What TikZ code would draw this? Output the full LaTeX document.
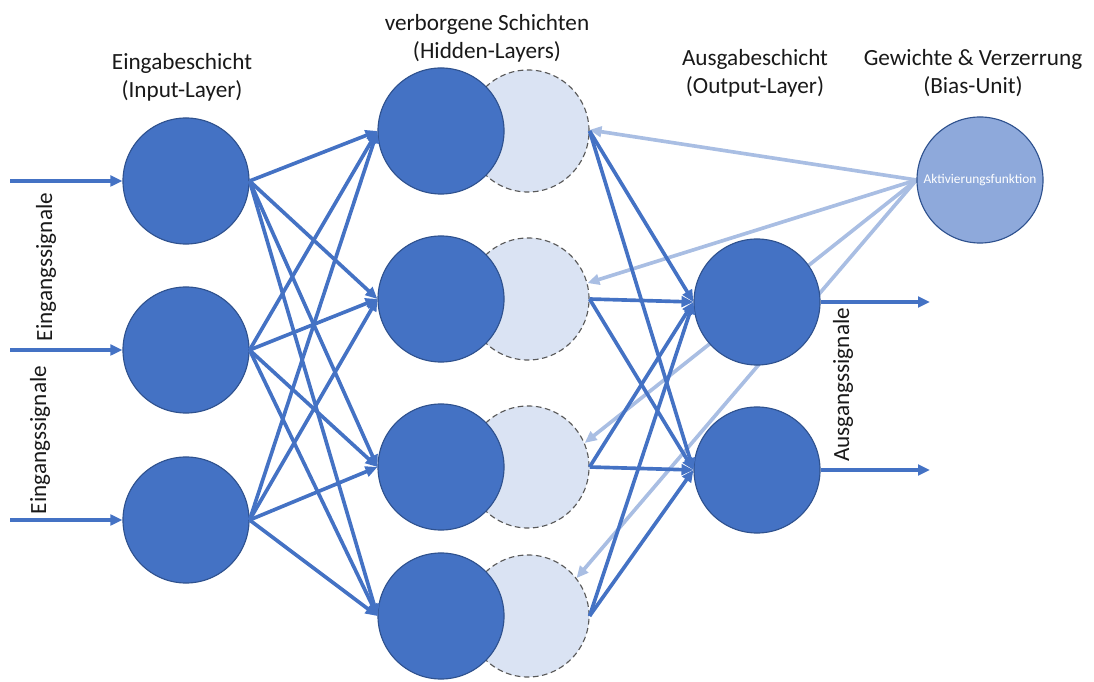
\documentclass[tikz,border=0pt]{standalone}
\usepackage{fontspec}
\setmainfont{Carlito}
\usetikzlibrary{arrows.meta,backgrounds}
\definecolor{nblue}{HTML}{4472C4}
\definecolor{nborder}{HTML}{2F528F}
\definecolor{nlight}{HTML}{DAE3F3}
\definecolor{nbias}{HTML}{8EA9DB}
\definecolor{nfaint}{HTML}{A9BEE3}
\tikzset{
    neuron/.style={circle,draw=nborder,fill=nblue,line width=0.8pt,minimum size=3.15cm,inner sep=0pt},
    ghost/.style={circle,draw=black!65,dash pattern=on 4pt off 2.5pt,fill=nlight,line width=0.8pt,minimum size=3.05cm,inner sep=0pt},
    biasunit/.style={circle,draw=nborder,fill=nbias,line width=0.8pt,minimum size=3.15cm,inner sep=0pt,text=white,font=\fontsize{9.5}{11}\selectfont},
    heading/.style={align=center,text=black!90,font=\fontsize{16.5}{20}\selectfont},
    arrow/.style={-{Triangle[length=8.5pt,width=7.5pt]},line width=2.6pt,draw=nblue},
    faintarrow/.style={-{Triangle[length=8.5pt,width=7.5pt]},line width=2.6pt,draw=nfaint}
}
\begin{document}
\begin{tikzpicture}[x=0.025cm,y=-0.025cm]
    \useasboundingbox (0,0) rectangle (1094,682);
    % Eingabeschicht
    \node[neuron] (i1) at (186,181) {};
    \node[neuron] (i2) at (186,350) {};
    \node[neuron] (i3) at (186,520) {};
    % verborgene Schichten
    \node[ghost] (b1) at (528,131) {};
    \node[ghost] (b2) at (528,299) {};
    \node[ghost] (b3) at (528,467) {};
    \node[ghost] (b4) at (528,616) {};
    \node[neuron] (h1) at (441,131) {};
    \node[neuron] (h2) at (441,299) {};
    \node[neuron] (h3) at (441,467) {};
    \node[neuron] (h4) at (441,616) {};
    % Ausgabeschicht
    \node[neuron] (o1) at (757,302) {};
    \node[neuron] (o2) at (757,470) {};
    % Bias-Unit
    \node[biasunit] (bias) at (980,180) {Aktivierungsfunktion};
    % Beschriftungen
    \node[heading] (tin) at (182,77) {Eingabeschicht\\(Input-Layer)};
    \node[heading] (thid) at (487,38) {verborgene Schichten\\(Hidden-Layers)};
    \node[heading] (tout) at (755,73) {Ausgabeschicht\\(Output-Layer)};
    \node[heading] (tbias) at (973,73) {Gewichte \& Verzerrung\\(Bias-Unit)};
    \node[heading,rotate=90] (sig1) at (46,267) {Eingangssignale};
    \node[heading,rotate=90] (sig2) at (40,440) {Eingangssignale};
    \node[heading,rotate=90] (sig3) at (843,385) {Ausgangssignale};
    \coordinate (e1) at (10,181);
    \coordinate (e2) at (10,350);
    \coordinate (e3) at (10,520);
    \coordinate (a1) at (930,302);
    \coordinate (a2) at (930,470);
    \begin{scope}[on background layer]
        \draw[faintarrow] (bias.west)--(b1.1);
        \draw[faintarrow] (bias.west)--(b2.15);
        \draw[faintarrow] (bias.west)--(b3.23);
        \draw[faintarrow] (bias.west)--(b4.38);
    \end{scope}
    \draw[arrow] (e1)--(i1);
    \draw[arrow] (e2)--(i2);
    \draw[arrow] (e3)--(i3);
    \draw[arrow] (i1.east)--(h1.west);
    \draw[arrow] (i1.east)--(h2.west);
    \draw[arrow] (i1.east)--(h3.west);
    \draw[arrow] (i1.east)--(h4.west);
    \draw[arrow] (i2.east)--(h1.west);
    \draw[arrow] (i2.east)--(h2.west);
    \draw[arrow] (i2.east)--(h3.west);
    \draw[arrow] (i2.east)--(h4.west);
    \draw[arrow] (i3.east)--(h1.west);
    \draw[arrow] (i3.east)--(h2.west);
    \draw[arrow] (i3.east)--(h3.west);
    \draw[arrow] (i3.east)--(h4.west);
    \draw[arrow] (b1.east)--(o1.west);
    \draw[arrow] (b1.east)--(o2.west);
    \draw[arrow] (b2.east)--(o1.west);
    \draw[arrow] (b2.east)--(o2.west);
    \draw[arrow] (b3.east)--(o1.west);
    \draw[arrow] (b3.east)--(o2.west);
    \draw[arrow] (b4.east)--(o1.west);
    \draw[arrow] (b4.east)--(o2.west);
    \draw[arrow] (o1)--(a1);
    \draw[arrow] (o2)--(a2);
\end{tikzpicture}
\end{document}
